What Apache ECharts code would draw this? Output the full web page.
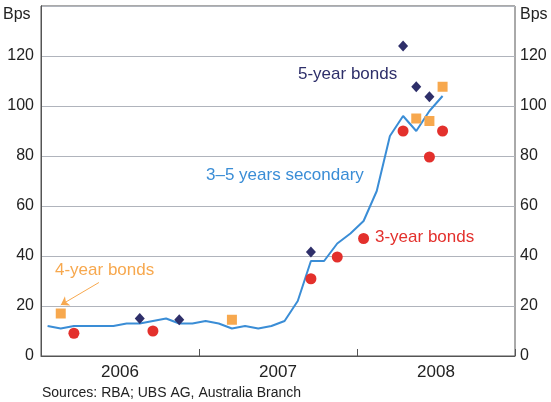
<!DOCTYPE html>
<html><head><meta charset="utf-8">
<script src="https://cdn.jsdelivr.net/npm/echarts@6/dist/echarts.min.js"></script>
<style>html,body{margin:0;padding:0;background:#fff}#c{width:551px;height:402px}</style>
</head><body><div id="c"></div>
<script>
// Monthly observations (mid-month), Jan 2006 .. Jul 2008
const secondaryMonths = ['2006-01','2006-02','2006-03','2006-04','2006-05','2006-06','2006-07','2006-08','2006-09','2006-10','2006-11','2006-12',
  '2007-01','2007-02','2007-03','2007-04','2007-05','2007-06','2007-07','2007-08','2007-09','2007-10','2007-11','2007-12',
  '2008-01','2008-02','2008-03','2008-04','2008-05','2008-06','2008-07'];
const secondaryValues = [12,11,12,12,12,12,13,13,14,15,13,13, 14,13,11,12,11,12,14,22,38,38,45,49, 54,66,88,96,90,98,104];

const fiveYearMonths = ['2006-08','2006-11','2007-09','2008-04','2008-05','2008-06'];
const fiveYearValues = [15,14.5,41.6,124,107.7,103.7];

const fourYearMonths = ['2006-02','2007-03','2008-05','2008-06','2008-07'];
const fourYearValues = [17,14.5,95,94,107.7];

const threeYearMonths = ['2006-03','2006-09','2007-09','2007-11','2008-01','2008-04','2008-06','2008-07'];
const threeYearValues = [9.1,10,30.9,39.6,47,90,79.6,90];

const yearLabels = ['2006','2007','2008'];
const yTicks = [0,20,40,60,80,100,120];

function mIdx(s){ const [y,m]=s.split('-').map(Number); return (y-2006)*12 + (m-1) + 0.5; }
function pairs(ms, vs){ return ms.map((m,i)=>[mIdx(m), vs[i]]); }

const FONT = 'Liberation Sans, Arial, sans-serif';
const axisCol = '#555555';
const gridCol = '#b0b4bc';

const chart = echarts.init(document.getElementById('c'));
const yBase = {
  type:'value', min:0, max:140, interval:20,
  axisLine:{show:true, lineStyle:{color:axisCol, width:1}},
  axisTick:{show:false},
  axisLabel:{fontFamily:FONT, fontSize:16, color:'#222',
    formatter: v => yTicks.indexOf(v) >= 0 ? String(v) : ''}
};
chart.setOption({
  animation:false,
  grid:{left:41, right:36, top:6, bottom:46, show:true, borderColor:axisCol, borderWidth:1},
  xAxis:[
    {type:'value', min:0, max:36, interval:12, position:'bottom',
     axisLine:{show:true, lineStyle:{color:axisCol}},
     axisTick:{show:true, inside:true, length:7, lineStyle:{color:axisCol}},
     axisLabel:{show:false}, splitLine:{show:false}},
    {type:'value', min:0, max:36, interval:6, position:'bottom', offset:0,
     axisLine:{show:false}, axisTick:{show:false}, splitLine:{show:false},
     axisLabel:{fontFamily:FONT, fontSize:17, color:'#222', margin:8, hideOverlap:false,
       formatter: v => (v % 12 === 6) ? yearLabels[(v-6)/12] : ''}}
  ],
  yAxis:[
    Object.assign({}, yBase, {position:'left', axisLabel:Object.assign({}, yBase.axisLabel, {margin:7}),
      splitLine:{show:true, lineStyle:{color:gridCol, width:1}}}),
    Object.assign({}, yBase, {position:'right', axisLabel:Object.assign({}, yBase.axisLabel, {margin:5}),
      splitLine:{show:false}})
  ],
  series:[
    {type:'line', name:'3–5 years secondary', xAxisIndex:0, yAxisIndex:0,
     data:pairs(secondaryMonths, secondaryValues), symbol:'none',
     lineStyle:{color:'#3a8dd6', width:2}, z:2},
    {type:'scatter', name:'5-year bonds', data:pairs(fiveYearMonths, fiveYearValues),
     symbol:'diamond', symbolSize:[10,11], itemStyle:{color:'#2e2f6a', opacity:1}, z:4},
    {type:'scatter', name:'4-year bonds', data:pairs(fourYearMonths, fourYearValues),
     symbol:'rect', symbolSize:10, itemStyle:{color:'#f7a84e', opacity:1}, z:3,
     markLine:{silent:true, symbol:['none','arrow'], symbolSize:8, precision:2,
       lineStyle:{color:'#f7a84e', width:1, type:'solid', opacity:1}, label:{show:false},
       emphasis:{disabled:true},
       data:[[{coord:[4.4,29.4]},{coord:[1.5,20.4]}]]}},
    {type:'scatter', name:'3-year bonds', data:pairs(threeYearMonths, threeYearValues),
     symbol:'circle', symbolSize:11, itemStyle:{color:'#e3302c', opacity:1}, z:3}
  ],
  graphic:[
    {type:'text', left:3, top:7, style:{text:'Bps', font:'16px '+FONT, fill:'#222'}},
    {type:'text', left:520, top:7, style:{text:'Bps', font:'16px '+FONT, fill:'#222'}},
    {type:'text', left:298, top:66, style:{text:'5-year bonds', font:'17px '+FONT, fill:'#2e2f6a'}},
    {type:'text', left:206, top:167, style:{text:'3–5 years secondary', font:'17px '+FONT, fill:'#3a8dd6'}},
    {type:'text', left:375, top:229, style:{text:'3-year bonds', font:'17px '+FONT, fill:'#e3302c'}},
    {type:'text', left:55, top:262, style:{text:'4-year bonds', font:'17px '+FONT, fill:'#f7a84e'}},
    {type:'text', left:42, top:386, style:{text:'Sources: RBA; UBS AG, Australia Branch', font:'14px '+FONT, fill:'#222'}}
  ]
});
</script></body></html>
